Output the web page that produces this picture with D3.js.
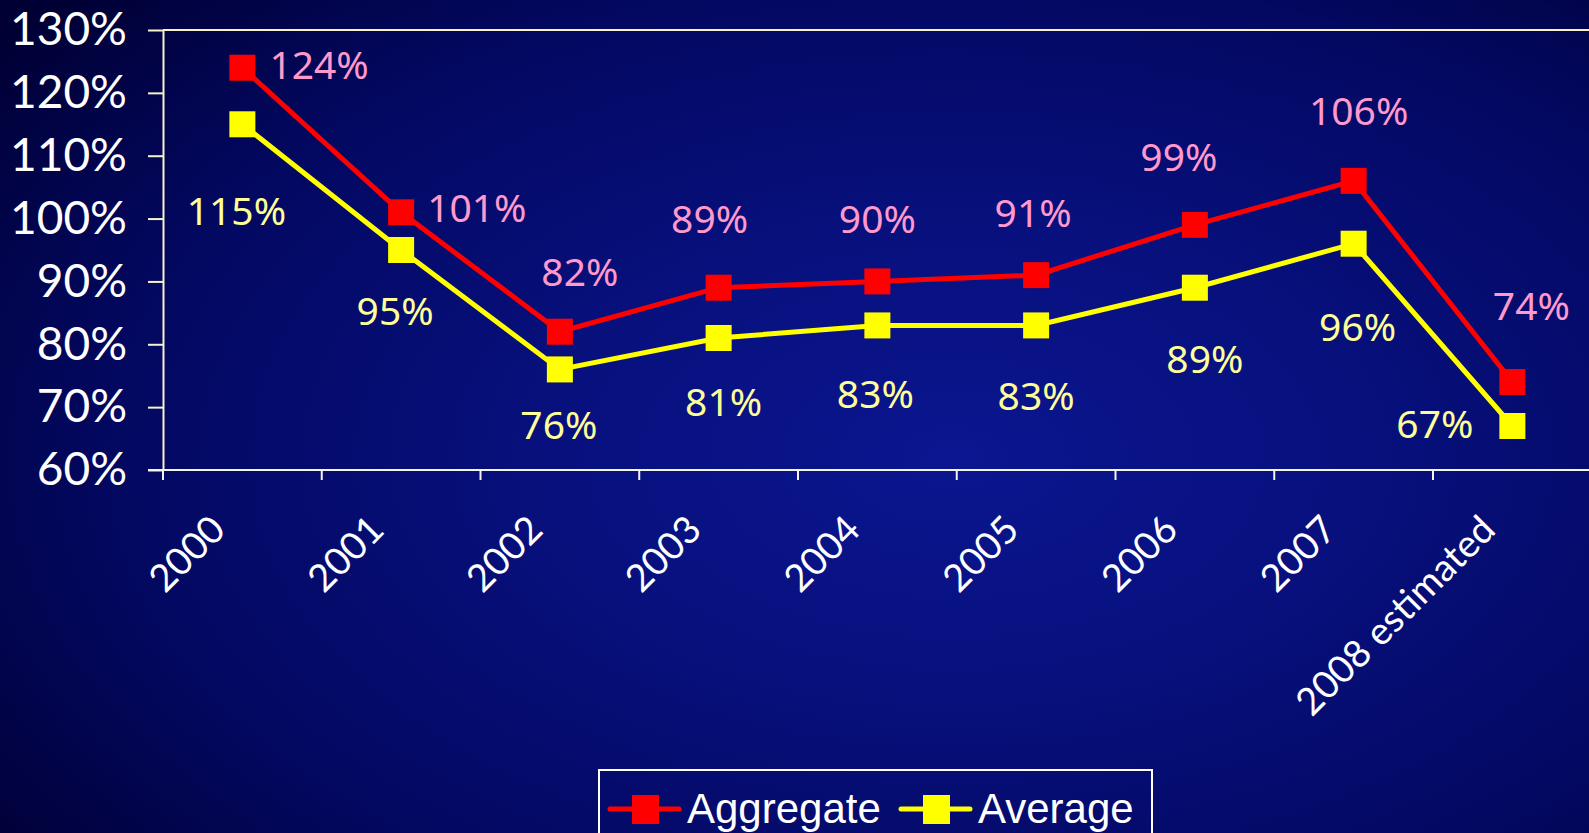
<!DOCTYPE html>
<html lang="en">

<head>
    <meta charset="UTF-8">
    <script src="https://d3js.org/d3.v7.min.js"></script>
    <title>Aggregate vs Average</title>
    <style>
        html,
        body {
            margin: 0;
            padding: 0;
            overflow: hidden;
            background: #02033c;
        }

        .line {
            fill: none;
            stroke-width: 5px;
            stroke-linejoin: miter;
        }

        .y-axis text {
            font-family: Lato, sans-serif;
            font-size: 46px;
            fill: #ffffff;
        }

        .x-axis text {
            font-family: Lato, sans-serif;
            font-size: 38px;
            fill: #ffffff;
        }

        .value-label {
            font-family: "Noto Sans", sans-serif;
            font-size: 39px;
        }
    </style>
</head>

<body>
    <div id="container"></div>
    <script>
        // Datos
        var years = ["2000", "2001", "2002", "2003", "2004", "2005", "2006", "2007", "2008 estimated"];
        var aggregate = [124, 101, 82, 89, 90, 91, 99, 106, 74];
        var average = [115, 95, 76, 81, 83, 83, 89, 96, 67];
        var yTicks = [60, 70, 80, 90, 100, 110, 120, 130];

        // Desplazamiento de cada etiqueta respecto a su marcador [dx, dy, anchor]
        var aggregateLabelPos = [
            [27, -3, "start"], [26, -4, "start"], [20, -60, "middle"], [-9, -69, "middle"],
            [0, -62, "middle"], [-3, -62, "middle"], [-16, -68, "middle"], [5, -70, "middle"],
            [19, -76, "middle"]
        ];
        var averageLabelPos = [
            [-6, 87, "middle"], [-6, 61, "middle"], [-1, 56, "middle"], [5, 64, "middle"],
            [-2, 69, "middle"], [0, 71, "middle"], [10, 71, "middle"], [4, 83, "middle"],
            [-39, -2, "end"]
        ];

        var W = 1589, H = 833;
        var margin = { top: 30, left: 163 };
        var step = 158.75;
        var plotH = 440;

        var svg = d3.select("#container").append("svg")
            .attr("width", W)
            .attr("height", H);

        // Fondo degradado azul
        var defs = svg.append("defs");
        var grad = defs.append("radialGradient")
            .attr("id", "bg")
            .attr("cx", "60%").attr("cy", "55%")
            .attr("r", "75%")
            .attr("gradientTransform", "translate(0.6,0.55) scale(1,1.1) translate(-0.6,-0.55)");
        grad.append("stop").attr("offset", "0%").attr("stop-color", "#0b1690");
        grad.append("stop").attr("offset", "35%").attr("stop-color", "#07107c");
        grad.append("stop").attr("offset", "70%").attr("stop-color", "#030861");
        grad.append("stop").attr("offset", "100%").attr("stop-color", "#000035");

        svg.append("rect")
            .attr("width", W)
            .attr("height", H)
            .attr("fill", "url(#bg)");

        var g = svg.append("g")
            .attr("transform", "translate(" + margin.left + "," + margin.top + ")");

        var x = d3.scaleBand()
            .domain(years)
            .range([0, step * years.length])
            .padding(0);
        var y = d3.scaleLinear()
            .domain([60, 130])
            .range([plotH, 0]);

        var cx = function (i) { return x(years[i]) + x.bandwidth() / 2; };

        // Borde superior del area del grafico
        g.append("line")
            .attr("x1", 0).attr("x2", W)
            .attr("y1", y(130)).attr("y2", y(130))
            .attr("stroke", "#f7f2cc")
            .attr("stroke-width", 2);

        // Eje Y
        var yAxis = g.append("g")
            .attr("class", "y-axis")
            .call(d3.axisLeft(y)
                .tickValues(yTicks)
                .tickFormat(function (d) { return d + "%"; })
                .tickSize(15)
                .tickSizeOuter(0)
                .tickPadding(21));
        yAxis.selectAll("line, path").attr("stroke", "#f7f2cc").attr("stroke-width", 2);

        // Eje X: linea base y marcas en los limites de cada categoria
        g.append("line")
            .attr("x1", -15).attr("x2", W)
            .attr("y1", plotH).attr("y2", plotH)
            .attr("stroke", "#f4f4ee")
            .attr("stroke-width", 2);
        g.append("g")
            .selectAll("line")
            .data(years.concat(["_end"]))
            .enter().append("line")
            .attr("x1", function (d, i) { return i * x.step(); })
            .attr("x2", function (d, i) { return i * x.step(); })
            .attr("y1", plotH)
            .attr("y2", plotH + 10)
            .attr("stroke", "#f4f4ee")
            .attr("stroke-width", 2);

        var xAxis = g.append("g")
            .attr("class", "x-axis")
            .attr("transform", "translate(0," + plotH + ")")
            .call(d3.axisBottom(x).tickSize(0));
        xAxis.select(".domain").remove();
        xAxis.selectAll("text")
            .attr("y", 0)
            .attr("dy", 0)
            .style("text-anchor", "end")
            .attr("transform", "translate(-15,62) rotate(-45)");

        // Lineas de las series
        var line = d3.line()
            .x(function (d, i) { return cx(i); })
            .y(function (d) { return y(d); });

        function drawSeries(values, color, labelColor, labelPos) {
            g.append("path")
                .datum(values)
                .attr("class", "line")
                .attr("stroke", color)
                .attr("d", line);

            g.append("g")
                .selectAll("rect")
                .data(values)
                .enter().append("rect")
                .attr("x", function (d, i) { return cx(i) - 13; })
                .attr("y", function (d) { return y(d) - 13; })
                .attr("width", 26)
                .attr("height", 26)
                .attr("fill", color);

            g.append("g")
                .selectAll("text")
                .data(values)
                .enter().append("text")
                .attr("class", "value-label")
                .attr("x", function (d, i) { return cx(i) + labelPos[i][0]; })
                .attr("y", function (d, i) { return y(d) + labelPos[i][1]; })
                .attr("dy", ".36em")
                .attr("text-anchor", function (d, i) { return labelPos[i][2]; })
                .attr("fill", labelColor)
                .text(function (d) { return d + "%"; });
        }

        drawSeries(aggregate, "#ff0000", "#ff99cc", aggregateLabelPos);
        drawSeries(average, "#ffff00", "#ffff99", averageLabelPos);

        // Leyenda
        var legend = svg.append("g").attr("transform", "translate(599,770)");
        legend.append("rect")
            .attr("width", 553)
            .attr("height", 100)
            .attr("fill", "none")
            .attr("stroke", "#ffffff")
            .attr("stroke-width", 2);

        var items = [
            { name: "Aggregate", color: "#ff0000", x: 11 },
            { name: "Average", color: "#ffff00", x: 302 }
        ];
        var item = legend.selectAll(".item")
            .data(items)
            .enter().append("g")
            .attr("class", "item")
            .attr("transform", function (d) { return "translate(" + d.x + ",0)"; });
        item.append("line")
            .attr("x1", 0).attr("x2", 69)
            .attr("y1", 39).attr("y2", 39)
            .attr("stroke", function (d) { return d.color; })
            .attr("stroke-width", 5)
            .attr("stroke-linecap", "round");
        item.append("rect")
            .attr("x", 22).attr("y", 25)
            .attr("width", 27).attr("height", 29)
            .attr("fill", function (d) { return d.color; });
        item.append("text")
            .attr("x", 77)
            .attr("y", 53)
            .attr("font-family", "'Liberation Sans', Arial, sans-serif")
            .attr("font-size", "42px")
            .attr("fill", "#ffffff")
            .text(function (d) { return d.name; });
    </script>
</body>

</html>
